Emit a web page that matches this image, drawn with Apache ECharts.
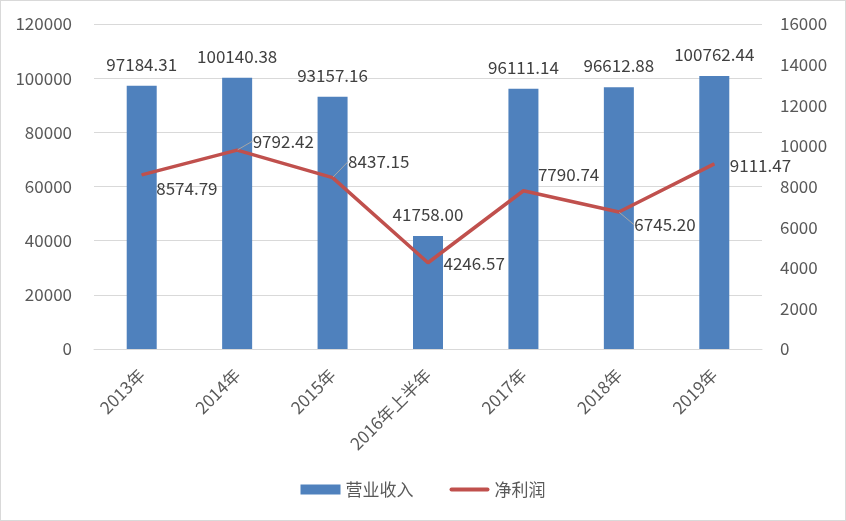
<!DOCTYPE html>
<html><head><meta charset="utf-8">
<script src="https://cdn.jsdelivr.net/npm/echarts@6/dist/echarts.min.js"></script>
<style>html,body{margin:0;padding:0;background:#fff}#c{width:846px;height:521px;box-sizing:border-box;border:1px solid #d9d9d9}</style>
</head><body><div id="c"></div>
<script>
const categories = ['2013年','2014年','2015年','2016年上半年','2017年','2018年','2019年'];
const revenue = [97184.31, 100140.38, 93157.16, 41758.00, 96111.14, 96612.88, 100762.44];
const profit = [8574.79, 9792.42, 8437.15, 4246.57, 7790.74, 6745.20, 9111.47];
const leftTicks = {min: 0, max: 120000, interval: 20000};
const rightTicks = {min: 0, max: 16000, interval: 2000};

const font = '"Microsoft YaHei","Noto Sans CJK SC",sans-serif';
const labelOffsets = [[14,14],[15,-9],[15,-16],[15,1],[14,-16],[15,13],[15,2]];
const withLine = [false,true,true,false,false,true,false];

const chart = echarts.init(document.getElementById('c'));
chart.setOption({
  animation: false,
  textStyle: {fontFamily: font},
  grid: {left: 93, right: 83, top: 23, bottom: 171},
  legend: {
    bottom: 17, left: 'center', itemWidth: 40, itemHeight: 10, itemGap: 36,
    textStyle: {fontSize: 17, color: '#595959', fontFamily: font},
    data: [
      {name: '营业收入', icon: 'rect'},
      {name: '净利润', icon: 'path://M2,0 L38,0 A2,2 0 0 1 38,4 L2,4 A2,2 0 0 1 2,0 Z'}
    ]
  },
  xAxis: {
    type: 'category', data: categories,
    axisLine: {lineStyle: {color: '#d9d9d9'}},
    axisTick: {show: false},
    axisLabel: {rotate: 45, fontSize: 17, color: '#595959', margin: 23, interval: 0, fontFamily: font}
  },
  yAxis: [
    {type: 'value', min: leftTicks.min, max: leftTicks.max, interval: leftTicks.interval,
     axisLabel: {fontSize: 17, color: '#595959', margin: 22, fontFamily: font, formatter: v => String(v)},
     splitLine: {lineStyle: {color: '#d9d9d9'}}, axisLine: {show: false}, axisTick: {show: false}},
    {type: 'value', min: rightTicks.min, max: rightTicks.max, interval: rightTicks.interval,
     axisLabel: {fontSize: 17, color: '#595959', margin: 18, fontFamily: font, formatter: v => String(v)},
     splitLine: {show: false}, axisLine: {show: false}, axisTick: {show: false}}
  ],
  series: [
    {name: '营业收入', type: 'bar', data: revenue, barWidth: 30, itemStyle: {color: '#4f81bd'},
     label: {show: true, position: 'top', distance: 13, fontSize: 17, color: '#404040', fontFamily: font,
       formatter: p => p.value.toFixed(2)}},
    {name: '净利润', type: 'line', yAxisIndex: 1, symbol: 'circle', symbolSize: 1,
     lineStyle: {color: '#c0504d', width: 3.5}, itemStyle: {color: '#c0504d'},
     data: profit.map((v, i) => ({value: v, labelLine: {show: withLine[i]}})),
     label: {show: true, position: 'right', distance: 0, fontSize: 17, color: '#404040', fontFamily: font,
       formatter: p => p.value.toFixed(2)},
     labelLine: {lineStyle: {color: '#a6a6a6', width: 1}, length2: 0},
     labelLayout: p => ({dx: labelOffsets[p.dataIndex][0], dy: labelOffsets[p.dataIndex][1]})
    }
  ]
});
</script></body></html>
